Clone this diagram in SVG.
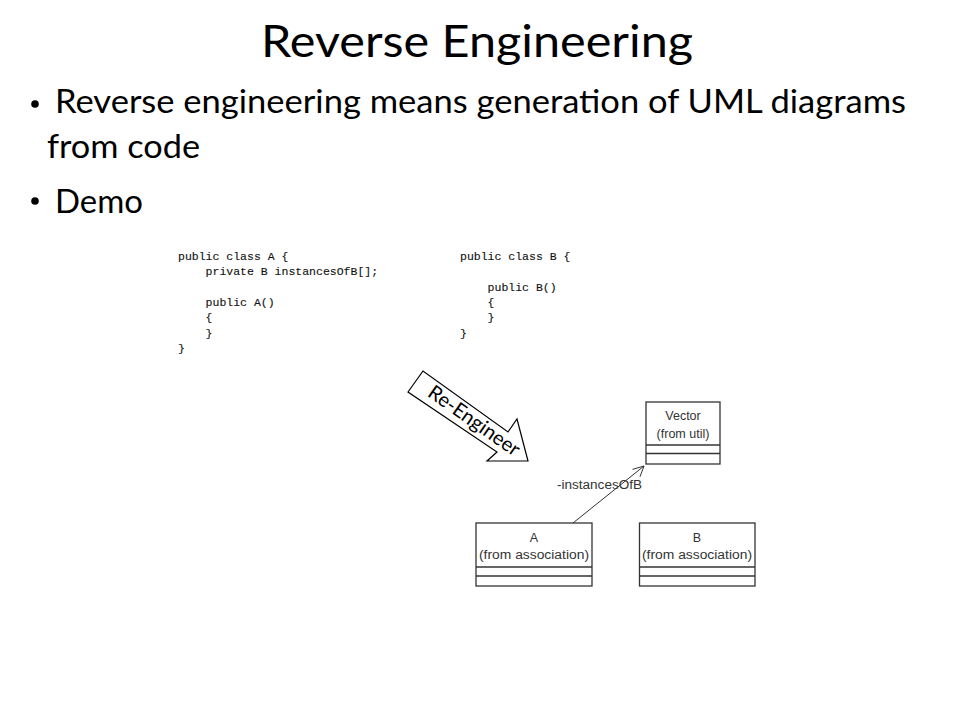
<svg xmlns="http://www.w3.org/2000/svg" width="960" height="720" viewBox="0 0 960 720">
<style>
.title{font-family:Lato,"Open Sans","Liberation Sans",sans-serif;font-size:45px;fill:#000}
.bul{font-family:Lato,"Open Sans","Liberation Sans",sans-serif;font-size:33px;fill:#000}
.code{font-family:"Liberation Mono","DejaVu Sans Mono",monospace;font-size:11.5px;fill:#111;stroke:#111;stroke-width:0.12}
.uml{font-family:"Liberation Sans","DejaVu Sans",sans-serif;font-size:12.5px;fill:#333;text-anchor:middle}
.box{fill:#fff;stroke:#333;stroke-width:1.3}
.div{stroke:#333;stroke-width:1.3}
.arrowtxt{font-family:Lato,"Open Sans","Liberation Sans",sans-serif;font-size:20px;fill:#000}
</style>
<rect width="960" height="720" fill="#fff"/>
<text class="title" x="261" y="57" textLength="432" lengthAdjust="spacingAndGlyphs">Reverse Engineering</text>
<circle cx="35" cy="104" r="3.8" fill="#000"/>
<circle cx="35" cy="201" r="3.8" fill="#000"/>
<text class="bul" x="55" y="113" textLength="851" lengthAdjust="spacingAndGlyphs">Reverse engineering means generation of UML diagrams</text>
<text class="bul" x="47" y="158" textLength="153" lengthAdjust="spacingAndGlyphs">from code</text>
<text class="bul" x="55" y="213" textLength="88" lengthAdjust="spacingAndGlyphs">Demo</text>
<g id="codeA">
<text x="178" y="260" class="code">public class A {</text>
<text x="205.6" y="275.3" class="code">private B instancesOfB[];</text>
<text x="205.6" y="305.9" class="code">public A()</text>
<text x="205.6" y="321.2" class="code">{</text>
<text x="205.6" y="336.5" class="code">}</text>
<text x="178" y="351.8" class="code">}</text>
</g>
<g id="codeB">
<text x="460" y="260" class="code">public class B {</text>
<text x="487.6" y="290.6" class="code">public B()</text>
<text x="487.6" y="305.9" class="code">{</text>
<text x="487.6" y="321.2" class="code">}</text>
<text x="460" y="336.5" class="code">}</text>
</g>
<g id="reengineer">
<polygon points="408,392 423,371 508,432 517,419 528,461 487,461 497,452" fill="#fff" stroke="#000" stroke-width="1.2" stroke-linejoin="miter"/>
<text class="arrowtxt" x="0" y="6.5" text-anchor="middle" transform="translate(474,421) rotate(35)">Re-Engineer</text>
</g>
<g id="Vector">
<rect class="box" x="646" y="402" width="74" height="62"/>
<line class="div" x1="646" y1="445" x2="720" y2="445"/>
<line class="div" x1="646" y1="453.5" x2="720" y2="453.5"/>
<text class="uml" x="683" y="420">Vector</text>
<text class="uml" x="683" y="438">(from util)</text>
</g>
<g id="A">
<rect class="box" x="476" y="523" width="116" height="63"/>
<line class="div" x1="476" y1="567" x2="592" y2="567"/>
<line class="div" x1="476" y1="576" x2="592" y2="576"/>
<text class="uml" x="534" y="542">A</text>
<text class="uml" x="534" y="559" textLength="110" lengthAdjust="spacingAndGlyphs">(from association)</text>
</g>
<g id="B">
<rect class="box" x="639.5" y="523" width="115.5" height="63"/>
<line class="div" x1="639.5" y1="567" x2="755" y2="567"/>
<line class="div" x1="639.5" y1="576" x2="755" y2="576"/>
<text class="uml" x="697" y="542">B</text>
<text class="uml" x="697" y="559" textLength="110" lengthAdjust="spacingAndGlyphs">(from association)</text>
</g>
<g id="connectors" stroke="#333" stroke-width="1" fill="none">
<line x1="573" y1="523" x2="644" y2="466"/>
<polyline points="632.5,469.4 644,466 640.0,476.7"/>
<text x="557" y="489" font-family="Liberation Sans, DejaVu Sans, sans-serif" font-size="12" fill="#333" stroke="none" textLength="85" lengthAdjust="spacingAndGlyphs">-instancesOfB</text>
</g>
</svg>
